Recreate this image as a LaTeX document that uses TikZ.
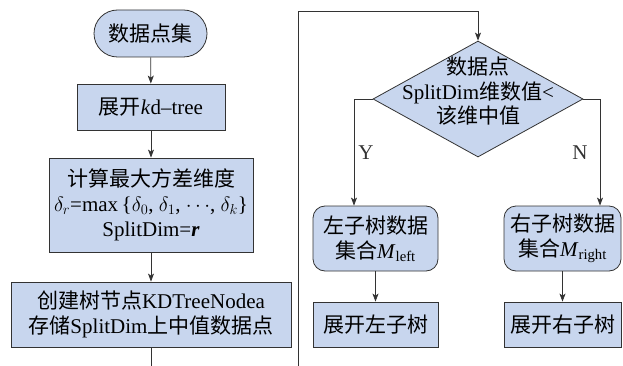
\documentclass[tikz,border=0pt]{standalone}
\usepackage{fontspec}
\setmainfont{Liberation Serif}
\newfontfamily\cjk{Noto Sans CJK SC}
\usepackage{tikz}
\usetikzlibrary{arrows.meta,positioning,shapes.misc,shapes.geometric}
\usepackage{xcolor}
\definecolor{fBlue}{HTML}{C8D6EE}
\definecolor{fLine}{HTML}{333333}
\newcommand{\zw}[1]{{\cjk #1}}
\tikzset{
  box/.style={draw=fLine, fill=fBlue, line width=0.8pt, align=center,
              inner sep=2pt, minimum width=#1},
  box/.default=125pt,
  term/.style={box=117pt, rounded rectangle, minimum height=47pt},
  soft/.style={box=#1, rounded corners=12pt, minimum height=65pt},
  cond/.style={diamond, draw=fLine, fill=fBlue, line width=0.8pt,
               minimum width=210pt, minimum height=116pt, inner sep=0pt},
  arr/.style={-{Stealth[length=8pt,width=6pt,inset=2pt]}, fLine, line width=0.8pt},
}

\begin{document}
\begin{tikzpicture}[x=1pt, y=-1pt, font=\fontsize{21}{25}\selectfont]
    \useasboundingbox (0,0) rectangle (623,366);
    % left column
    \node[term] (start) at (150.5,33.5) {\zw{数据点集}};
    \node[box=148pt, minimum height=46pt] (kdt) at (151,107)
      {\zw{展开}\textit{k}d\textendash tree};
    \node[box=204pt, minimum height=94pt] (var) at (151,205)
      {\zw{计算最大方差维度}\\
       $\delta_r$=max\,\{$\delta_0$, $\delta_1$, $\cdots$, $\delta_k$\}\\
       SplitDim=\textbf{\textit{r}}};
    \node[box=280pt, minimum height=65pt] (mk) at (151,314.5)
      {\zw{创建树节点}KDTreeNodea\\\zw{存储}SplitDim\zw{上中值数据点}};
    % right column
    \node[cond] (cmp) at (478,99)
      {\makebox[0pt]{\smash{\fontsize{21}{23}\selectfont\begin{tabular}{@{}c@{}}
       \zw{数据点}\\SplitDim\zw{维数值}<\\\zw{该维中值}\end{tabular}}}};
    \node[soft=125pt] (lset) at (375.5,238.5)
      {\zw{左子树数据}\\\zw{集合}\textit{M}\textsubscript{left}};
    \node[soft=117pt] (rset) at (562.5,238.5)
      {\zw{右子树数据}\\\zw{集合}\textit{M}\textsubscript{right}};
    \node[box=125pt, minimum height=45pt] (lgo) at (375.5,324.5) {\zw{展开左子树}};
    \node[box=117pt, minimum height=45pt] (rgo) at (562.5,324.5) {\zw{展开右子树}};
    \coordinate (cutL) at (151,366);
    \coordinate (cutR) at (298,366);
    \coordinate (topR) at (478,11);
    \draw[arr] (start) -- (kdt);
    \draw[arr] (kdt) -- (var);
    \draw[arr] (var) -- (mk);
    \draw[fLine, line width=0.8pt] (mk) -- (cutL);
    \draw[arr] (cutR) |- (topR) -- (cmp);
    \draw[arr] (cmp.west) -| node[pos=0.75, right, inner sep=4pt] {Y}
      ([xshift=-21.5pt]lset.north);
    \draw[arr] (cmp.east) -| node[pos=0.75, left, inner sep=4pt, xshift=-8pt] {N}
      ([xshift=37.5pt]rset.north);
    \draw[arr] (lset) -- (lgo);
    \draw[arr] (rset) -- (rgo);
\end{tikzpicture}
\end{document}
